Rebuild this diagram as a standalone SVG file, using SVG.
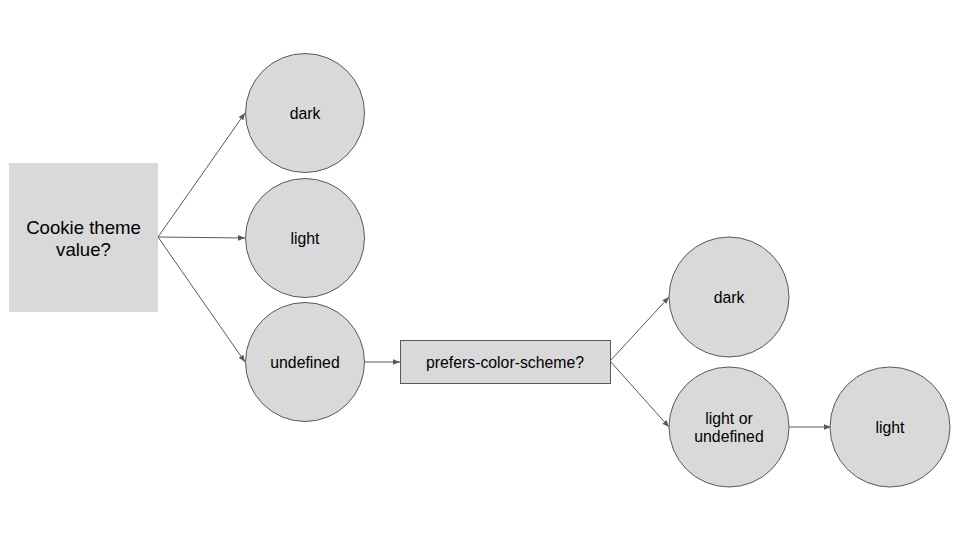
<svg xmlns="http://www.w3.org/2000/svg" width="960" height="540" viewBox="0 0 960 540">
<defs>
<marker id="arr" viewBox="0 0 10 10" refX="10" refY="5" markerWidth="7" markerHeight="7" markerUnits="userSpaceOnUse" orient="auto">
<path d="M0,1 L10,5 L0,9 Z" fill="#595959"/>
</marker>
<style>
.n{fill:#d9d9d9;stroke:#595959;stroke-width:1}
.t{font-family:"Liberation Sans",Arial,sans-serif;font-size:15.8px;fill:#000;text-anchor:middle}
.big{font-size:18.6px}
.c{fill:none;stroke:#595959;stroke-width:1;marker-end:url(#arr)}
</style>
</defs>
<rect width="960" height="540" fill="#fff"/>
<g id="connectors">
<line class="c" x1="158" y1="237" x2="245" y2="113"/>
<line class="c" x1="158" y1="237" x2="245" y2="238"/>
<line class="c" x1="158" y1="237" x2="245" y2="362"/>
<line class="c" x1="365" y1="362" x2="400" y2="362"/>
<line class="c" x1="610" y1="361" x2="669" y2="297"/>
<line class="c" x1="610" y1="361" x2="669" y2="427"/>
<line class="c" x1="789" y1="427" x2="831" y2="427"/>
</g>
<g id="cookie">
<rect x="9" y="163" width="149" height="149" fill="#d9d9d9"/>
<text class="t big" x="83.5" y="234">Cookie theme</text>
<text class="t big" x="83.5" y="256">value?</text>
</g>
<g id="dark1">
<circle class="n" cx="305" cy="113" r="59.5"/>
<text class="t" x="305" y="119">dark</text>
</g>
<g id="light1">
<circle class="n" cx="305" cy="238" r="59.5"/>
<text class="t" x="305" y="244">light</text>
</g>
<g id="undefined1">
<circle class="n" cx="305" cy="362" r="59.5"/>
<text class="t" x="305" y="368">undefined</text>
</g>
<g id="prefers">
<rect class="n" x="400.5" y="340.5" width="210" height="43"/>
<text class="t" x="505" y="367.5">prefers-color-scheme?</text>
</g>
<g id="dark2">
<circle class="n" cx="729" cy="297" r="60"/>
<text class="t" x="729" y="303">dark</text>
</g>
<g id="lightorundefined">
<circle class="n" cx="729" cy="427" r="60"/>
<text class="t" x="729" y="424">light or</text>
<text class="t" x="729" y="442">undefined</text>
</g>
<g id="light2">
<circle class="n" cx="890" cy="427" r="60"/>
<text class="t" x="890" y="433">light</text>
</g>
</svg>
